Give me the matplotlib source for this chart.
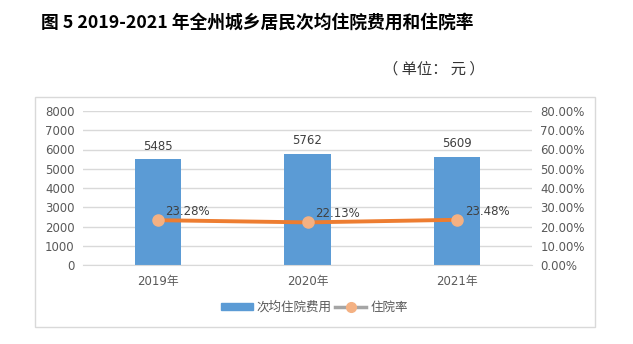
import matplotlib.pyplot as plt
from matplotlib.patches import Rectangle
from matplotlib.lines import Line2D
from matplotlib.ticker import FuncFormatter

plt.rcParams['font.family'] = ['DejaVu Sans', 'Noto Sans CJK SC']

# data
years = ["2019年", "2020年", "2021年"]
cost = [5485, 5762, 5609]
rate = [23.28, 22.13, 23.48]

fig = plt.figure(figsize=(6.33, 3.44), dpi=100)

# title and unit note
cjk = ['Noto Sans CJK SC', 'DejaVu Sans']
fig.text(0.407, 0.935, "图 5 2019-2021 年全州城乡居民次均住院费用和住院率",
         ha="center", va="center", fontsize=12.8, fontweight="bold", color="black", family=cjk)
fig.text(0.686, 0.80, "（ 单位： 元 ）", ha="center", va="center", fontsize=11,
         color="#333333", family=cjk)

# outer chart border
fig.patches.append(Rectangle((35 / 633, 1 - 327 / 344), 560 / 633, 230 / 344,
                             transform=fig.transFigure, fill=False,
                             edgecolor="#d9d9d9", linewidth=1))

ax = fig.add_axes([83 / 633, 1 - 265 / 344, 449 / 633, 154 / 344])
ax2 = ax.twinx()

x = range(len(years))
ax.bar(x, cost, width=0.31, color="#5B9BD5", zorder=2)
for i, v in enumerate(cost):
    ax.text(i, v + 350, str(v), ha="center", va="bottom", fontsize=8.5, color="#404040")

ax.set_ylim(0, 8000)
ax.set_yticks(range(0, 8001, 1000))
ax.set_xlim(-0.5, 2.5)
ax.set_xticks(list(x))
ax.set_xticklabels(years)
ax.grid(axis="y", color="#d9d9d9", linewidth=1, zorder=0)
ax.set_axisbelow(True)

ax2.plot(x, rate, color="#ED7D31", linewidth=2.8, marker="o", markersize=8,
         markerfacecolor="#F4B183", markeredgecolor="#F4B183", zorder=3)
for i, v in enumerate(rate):
    ax2.text(i + 0.05, v + 1.0, f"{v:.2f}%", ha="left", va="bottom", fontsize=8.5, color="#404040")
ax2.set_ylim(0, 80)
ax2.set_yticks(range(0, 81, 10))
ax2.yaxis.set_major_formatter(FuncFormatter(lambda v, p: f"{v:.2f}%"))

for a in (ax, ax2):
    for s in a.spines.values():
        s.set_visible(False)
    a.tick_params(length=0, labelsize=8.5, colors="#595959")
ax.spines["bottom"].set_visible(True)
ax.spines["bottom"].set_color("#d9d9d9")
ax.tick_params(axis="x", pad=7)
ax.tick_params(axis="y", pad=6)
ax2.tick_params(axis="y", pad=6)

# legend
handles = [Rectangle((0, 0), 1, 1, color="#5B9BD5"),
           Line2D([0], [0], color="#A5A5A5", linewidth=2.5, marker="o", markersize=7,
                  markerfacecolor="#F4B183", markeredgecolor="#F4B183")]
fig.legend(handles, ["次均住院费用", "住院率"], loc="center", bbox_to_anchor=(0.497, 1 - 307 / 344),
           ncol=2, frameon=False, prop={"family": cjk, "size": 9}, labelcolor="#595959",
           handlelength=2.5, handleheight=0.5, columnspacing=0.3, handletextpad=0.3)

fig.savefig("out.png", dpi=100)
